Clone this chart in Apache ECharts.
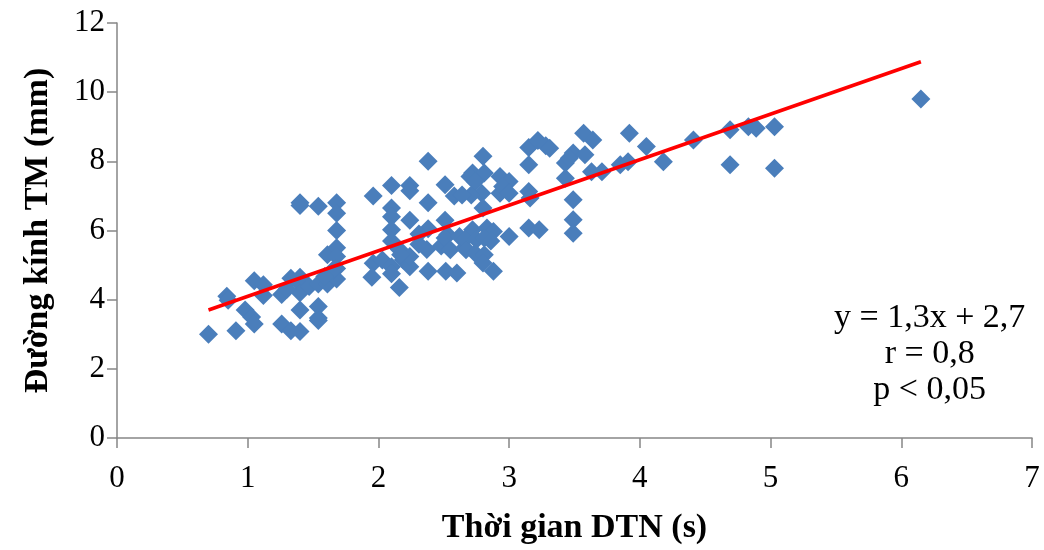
<!DOCTYPE html>
<html>
<head>
<meta charset="utf-8">
<script src="https://cdn.jsdelivr.net/npm/echarts@6/dist/echarts.min.js"></script>
<style>html,body{margin:0;padding:0;background:#fff;}#c{width:1044px;height:550px;}</style>
</head>
<body>
<div id="c"></div>
<script>
// Thời gian DTN (s)
const xValues = [
  0.70,0.84,0.85,0.91,0.98,1.03,1.05,1.05,1.12,1.12,
  1.26,1.26,1.33,1.33,1.40,1.40,1.40,1.40,1.40,1.40,
  1.40,1.47,1.54,1.54,1.54,1.54,1.54,1.61,1.61,1.61,
  1.68,1.68,1.68,1.68,1.68,1.68,1.68,1.65,1.30,1.59,
  1.96,2.10,2.24,2.24,2.38,2.10,2.10,2.24,2.38,2.10,
  2.38,2.31,2.10,2.16,2.37,2.48,1.96,2.03,2.10,2.19,
  2.24,1.95,2.10,2.38,2.16,2.31,2.24,2.17,
  2.51,2.58,2.51,2.53,2.51,2.62,2.55,2.66,2.515,2.60,
  2.80,2.72,2.70,2.81,2.93,3.00,2.74,2.79,2.71,2.64,
  2.93,2.95,3.00,3.15,3.16,2.80,2.72,2.83,2.88,2.66,
  2.75,2.81,2.86,3.00,3.15,3.23,2.67,2.74,2.81,2.80,
  2.88,3.15,3.15,3.22,3.28,3.31,
  3.57,3.64,3.92,3.49,3.58,3.43,3.46,3.63,3.71,3.85,
  3.91,4.05,4.18,3.43,3.49,3.49,3.49,
  4.41,4.69,4.69,4.83,4.89,5.03,5.03,6.15
];
// Đường kính TM (mm)
const yValues = [
  3.00,4.10,3.98,3.10,3.70,3.50,3.30,4.55,4.43,4.12,
  3.30,4.15,4.62,3.10,3.08,3.70,6.80,6.72,4.65,4.45,
  4.20,4.38,6.70,4.45,3.80,3.47,3.40,5.30,4.67,4.45,
  6.80,6.50,6.00,5.50,5.25,4.90,4.60,4.85,4.30,4.67,
  7.00,7.30,7.30,7.15,8.00,6.65,6.40,6.30,6.80,6.02,
  6.05,5.90,5.70,5.45,5.45,5.55,5.05,5.15,4.95,5.15,
  4.95,4.65,4.75,4.82,4.35,5.60,5.25,5.30,
  7.32,7.00,6.30,5.88,5.78,5.83,5.44,5.50,4.82,4.77,
  8.15,7.66,7.56,7.66,7.56,7.42,7.42,7.08,7.03,7.03,
  7.08,7.27,7.08,7.13,6.94,6.65,6.02,6.07,5.97,5.73,
  5.73,5.78,5.70,5.83,6.07,6.02,5.44,5.34,5.30,5.06,
  4.82,7.90,8.40,8.60,8.45,8.38,
  8.81,8.62,8.81,8.24,8.19,7.95,8.09,7.70,7.70,7.90,
  7.99,8.43,7.99,7.51,6.89,6.31,5.92,
  8.62,8.91,7.90,9.00,8.96,9.00,7.80,9.80
];
// Trend line as drawn (start/end x, slope, intercept)
const trendX = [0.70, 6.15];
const trendSlope = 1.317;
const trendIntercept = 2.78;
const xTicks = [0, 1, 2, 3, 4, 5, 6, 7];
const yTicks = [0, 2, 4, 6, 8, 10, 12];
const annotationLines = ['y = 1,3x + 2,7', 'r = 0,8', 'p < 0,05'];

const points = xValues.map((x, i) => [x, yValues[i]]);
const trend = trendX.map(x => [x, trendSlope * x + trendIntercept]);

const serif = 'Liberation Serif';
const axisColor = '#868686';
const chart = echarts.init(document.getElementById('c'), null, {renderer: 'canvas'});
chart.setOption({
  animation: false,
  backgroundColor: '#ffffff',
  grid: {left: 117, right: 12, top: 23, bottom: 112, containLabel: false},
  xAxis: {
    type: 'value', min: xTicks[0], max: xTicks[xTicks.length - 1], interval: 1,
    name: 'Thời gian DTN (s)', nameLocation: 'middle', nameGap: 73,
    nameTextStyle: {fontFamily: serif, fontSize: 34, fontWeight: 'bold', color: '#000'},
    axisLine: {show: true, lineStyle: {color: axisColor, width: 1.5}},
    axisTick: {show: true, inside: false, length: 10, lineStyle: {color: axisColor, width: 1.5}},
    axisLabel: {fontFamily: serif, fontSize: 31, color: '#000', margin: 25},
    splitLine: {show: false}
  },
  yAxis: {
    type: 'value', min: yTicks[0], max: yTicks[yTicks.length - 1], interval: 2,
    name: 'Đường kính TM (mm)', nameLocation: 'middle', nameGap: 62, nameRotate: 90,
    nameTextStyle: {fontFamily: serif, fontSize: 34, fontWeight: 'bold', color: '#000'},
    axisLine: {show: true, lineStyle: {color: axisColor, width: 1.5}},
    axisTick: {show: true, inside: false, length: 10, lineStyle: {color: axisColor, width: 1.5}},
    axisLabel: {fontFamily: serif, fontSize: 31, color: '#000', margin: 12},
    splitLine: {show: false}
  },
  graphic: [{
    type: 'text', left: 834, top: 300, z: 100,
    style: {
      text: annotationLines.join('\n'), fontFamily: serif, fontSize: 34,
      lineHeight: 36, textAlign: 'center', fill: '#000', x: 100
    }
  }],
  series: [
    {
      type: 'scatter', data: points, symbol: 'diamond', symbolSize: 19,
      itemStyle: {color: '#4A7EBB', opacity: 1}, z: 2
    },
    {
      type: 'line', data: trend, symbol: 'none', z: 3,
      lineStyle: {color: '#FF0000', width: 3.5}
    }
  ]
});
</script>
</body>
</html>
